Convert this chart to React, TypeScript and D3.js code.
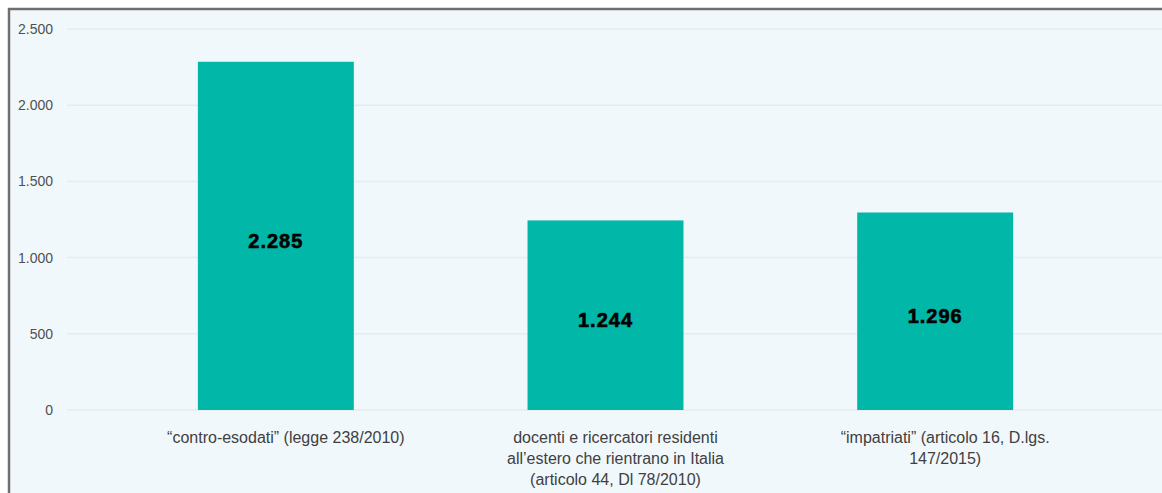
import React, { useEffect, useRef } from "react";
import * as d3 from "d3";

// Beneficiari per regime agevolativo
const categories: string[][] = [
  ["“contro-esodati” (legge 238/2010)"],
  ["docenti e ricercatori residenti", "all’estero che rientrano in Italia", "(articolo 44, Dl 78/2010)"],
  ["“impatriati” (articolo 16, D.lgs.", "147/2015)"],
];
const categoryKeys = ["contro-esodati", "docenti-ricercatori", "impatriati"];
const values = [2285, 1244, 1296];
const valueLabels = ["2.285", "1.244", "1.296"];
const yTicks = [0, 500, 1000, 1500, 2000, 2500];
const yTickLabels = ["0", "500", "1.000", "1.500", "2.000", "2.500"];

const W = 1162;
const H = 493;

export default function App() {
  const ref = useRef<SVGSVGElement | null>(null);

  useEffect(() => {
    const svg = d3.select(ref.current);
    svg.selectAll("*").remove();

    // page + frame
    svg.append("rect").attr("width", W).attr("height", H).attr("fill", "#ffffff");
    svg.append("rect").attr("x", 9).attr("y", 9).attr("width", W).attr("height", H).attr("fill", "#f1f8fc");
    svg.append("line").attr("x1", 9).attr("x2", 9).attr("y1", 8).attr("y2", H).attr("stroke", "#6f6f6f").attr("stroke-width", 2.5);
    svg.append("line").attr("x1", 8).attr("x2", W).attr("y1", 9).attr("y2", 9).attr("stroke", "#6f6f6f").attr("stroke-width", 2.5);

    const y = d3.scaleLinear().domain([0, 2500]).range([410, 29]);
    const x = d3
      .scaleBand<string>()
      .domain(categoryKeys)
      .range([111, 1100])
      .paddingInner(0.527)
      .paddingOuter(0.2635);

    // grid
    const grid = svg.append("g");
    yTicks.forEach((t) => {
      grid
        .append("line")
        .attr("x1", 67)
        .attr("x2", W)
        .attr("y1", y(t))
        .attr("y2", y(t))
        .attr("stroke", "#e6ebee")
        .attr("stroke-width", 1.5);
    });

    // y tick labels
    const yl = svg.append("g");
    yTicks.forEach((t, i) => {
      yl.append("text")
        .attr("x", 53)
        .attr("y", y(t))
        .attr("dy", "0.35em")
        .attr("text-anchor", "end")
        .attr("font-family", "Liberation Sans, Arial, sans-serif")
        .attr("font-size", 14)
        .attr("fill", "#505050")
        .text(yTickLabels[i]);
    });

    // bars
    const bars = svg.append("g");
    values.forEach((v, i) => {
      const k = categoryKeys[i];
      bars
        .append("rect")
        .attr("x", x(k)!)
        .attr("y", y(v))
        .attr("width", x.bandwidth())
        .attr("height", y(0) - y(v))
        .attr("fill", "#01b7a8");
      bars
        .append("text")
        .attr("x", x(k)! + x.bandwidth() / 2)
        .attr("y", (y(v) + y(0)) / 2 + 5)
        .attr("dy", "0.35em")
        .attr("text-anchor", "middle")
        .attr("font-family", "Liberation Sans, Arial, sans-serif")
        .attr("font-weight", "bold")
        .attr("font-size", 20)
        .attr("letter-spacing", 1)
        .attr("fill", "#000000")
        .attr("stroke", "#000000")
        .attr("stroke-width", 0.6)
        .text(valueLabels[i]);
    });

    // category labels (set slightly right of the bar centre)
    const cl = svg.append("g");
    categories.forEach((lines, i) => {
      const cx = x(categoryKeys[i])! + x.bandwidth() / 2 + 10;
      lines.forEach((line, j) => {
        cl.append("text")
          .attr("x", cx)
          .attr("y", 437 + j * 21)
          .attr("dy", "0.35em")
          .attr("text-anchor", "middle")
          .attr("font-family", "Liberation Sans, Arial, sans-serif")
          .attr("font-size", 16)
          .attr("fill", "#404040")
          .text(line);
      });
    });
  }, []);

  return (
    <svg
      ref={ref}
      width={W}
      height={H}
      style={{ position: "absolute", left: 0, top: 0, display: "block" }}
    />
  );
}
